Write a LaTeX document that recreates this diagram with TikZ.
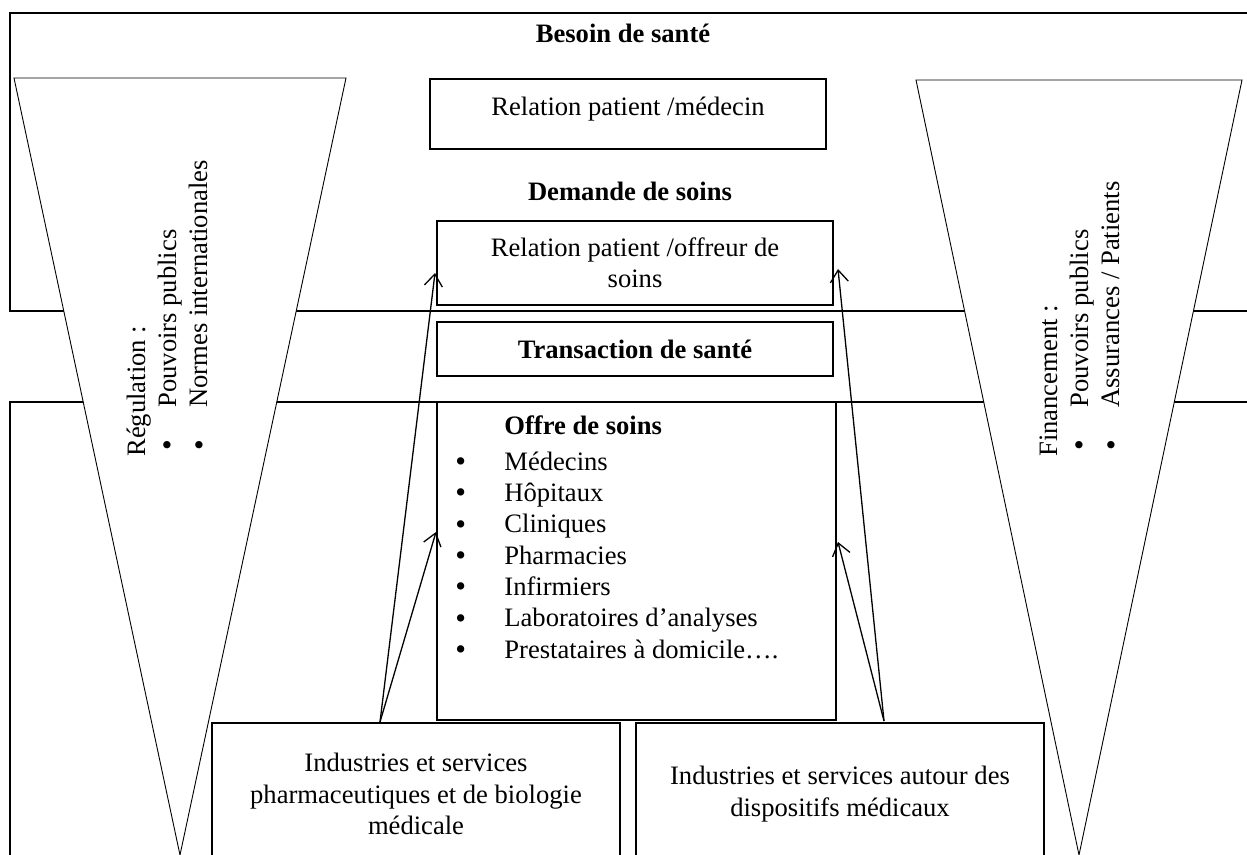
\documentclass[tikz,border=0pt]{standalone}
\usepackage{graphicx}
\usepackage{fontspec}
\setmainfont{Liberation Serif}
\usetikzlibrary{arrows.meta}
\newcommand{\puce}{\raisebox{-0.7pt}{\scalebox{1.15}{\textbullet}}}
\tikzset{
  box/.style={draw, line width=0.6pt, fill=white, inner sep=0pt},
  band/.style={line width=0.85pt},
  funnel/.style={draw, line width=0.45pt, fill=white},
  flow/.style={line width=0.65pt, -{Straight Barb[length=6pt,width=9pt]}},
  vlist/.style={rotate=90, anchor=base west, inner sep=0pt},
}
\begin{document}
\begin{tikzpicture}[x=0.5pt, y=-0.5pt, font=\fontsize{13.3}{15.65}\selectfont]
  \useasboundingbox (0,0) rectangle (1247,855);
  \clip (0,0) rectangle (1247,855);
  % les trois bandes
  \draw [band] (1260,13) -- (10,13) -- (10,311) -- (1260,311);
  \draw [band] (1260,402) -- (10,402) -- (10,870);
  % entonnoirs
  \draw [funnel] (14,78) -- (346,78) -- (180,855) -- cycle;
  \draw [funnel] (916,80) -- (1242,80) -- (1079,855) -- cycle;
  \node [vlist] (regulation) at (145,457) {\begin{tabular}[t]{@{}l@{}}
    Régulation :\\
    \hspace*{3pt}\makebox[21.5pt][l]{\puce}Pouvoirs publics\\
    \hspace*{3pt}\makebox[21.5pt][l]{\puce}Normes internationales
  \end{tabular}};
  \node [vlist] (financement) at (1057,457) {\begin{tabular}[t]{@{}l@{}}
    Financement :\\
    \hspace*{3pt}\makebox[21.5pt][l]{\puce}Pouvoirs publics\\
    \hspace*{3pt}\makebox[21.5pt][l]{\puce}Assurances / Patients
  \end{tabular}};
  % titres
  \node (besoin) at (623,33) {\textbf{Besoin de santé}};
  \node (demande) at (630,191) {\textbf{Demande de soins}};
  % cases centrales
  \node [box, minimum width=198pt, minimum height=35pt] (medecin) at (628,114) {};
  \node (medecinTxt) at (628,109) {Relation patient /médecin};
  \node [box, minimum width=198pt, minimum height=42pt, align=center] (offreur) at (635,263)
    {Relation patient /offreur de\\soins};
  \node [box, minimum width=198pt, minimum height=27pt] (transaction) at (635,349)
    {\textbf{Transaction de santé}};
  \node [box, minimum width=199.5pt, minimum height=159pt] (offre) at (636.5,561) {};
  \node [anchor=base west, inner sep=0pt] (offreList) at (455,435) {\begin{tabular}[t]{@{}p{24.5pt}@{}l@{}}
    & \textbf{Offre de soins}\\[2pt]
    \puce & Médecins\\
    \puce & Hôpitaux\\
    \puce & Cliniques\\
    \puce & Pharmacies\\
    \puce & Infirmiers\\
    \puce & Laboratoires d’analyses\\
    \puce & Prestataires à domicile….
  \end{tabular}};
  % industries
  \node [box, minimum width=204pt, minimum height=71pt, align=center] (pharma) at (416,794)
    {Industries et services\\pharmaceutiques et de biologie\\médicale};
  \node [box, minimum width=204pt, minimum height=71pt, align=center] (dispositifs) at (840,794)
    {Industries et services autour des\\dispositifs médicaux};
  % fleches
  \coordinate (pharmaTop) at (380,722);
  \coordinate (dispoTop) at (884,721);
  \coordinate (offreurW) at (435,273);
  \coordinate (offreurE) at (838,269);
  \coordinate (offreW) at (436,532);
  \coordinate (offreE) at (838,542);
  \draw [flow] (pharmaTop) -- (offreurW);
  \draw [flow] (pharmaTop) -- (offreW);
  \draw [flow] (dispoTop) -- (offreurE);
  \draw [flow] (dispoTop) -- (offreE);
\end{tikzpicture}
\end{document}
